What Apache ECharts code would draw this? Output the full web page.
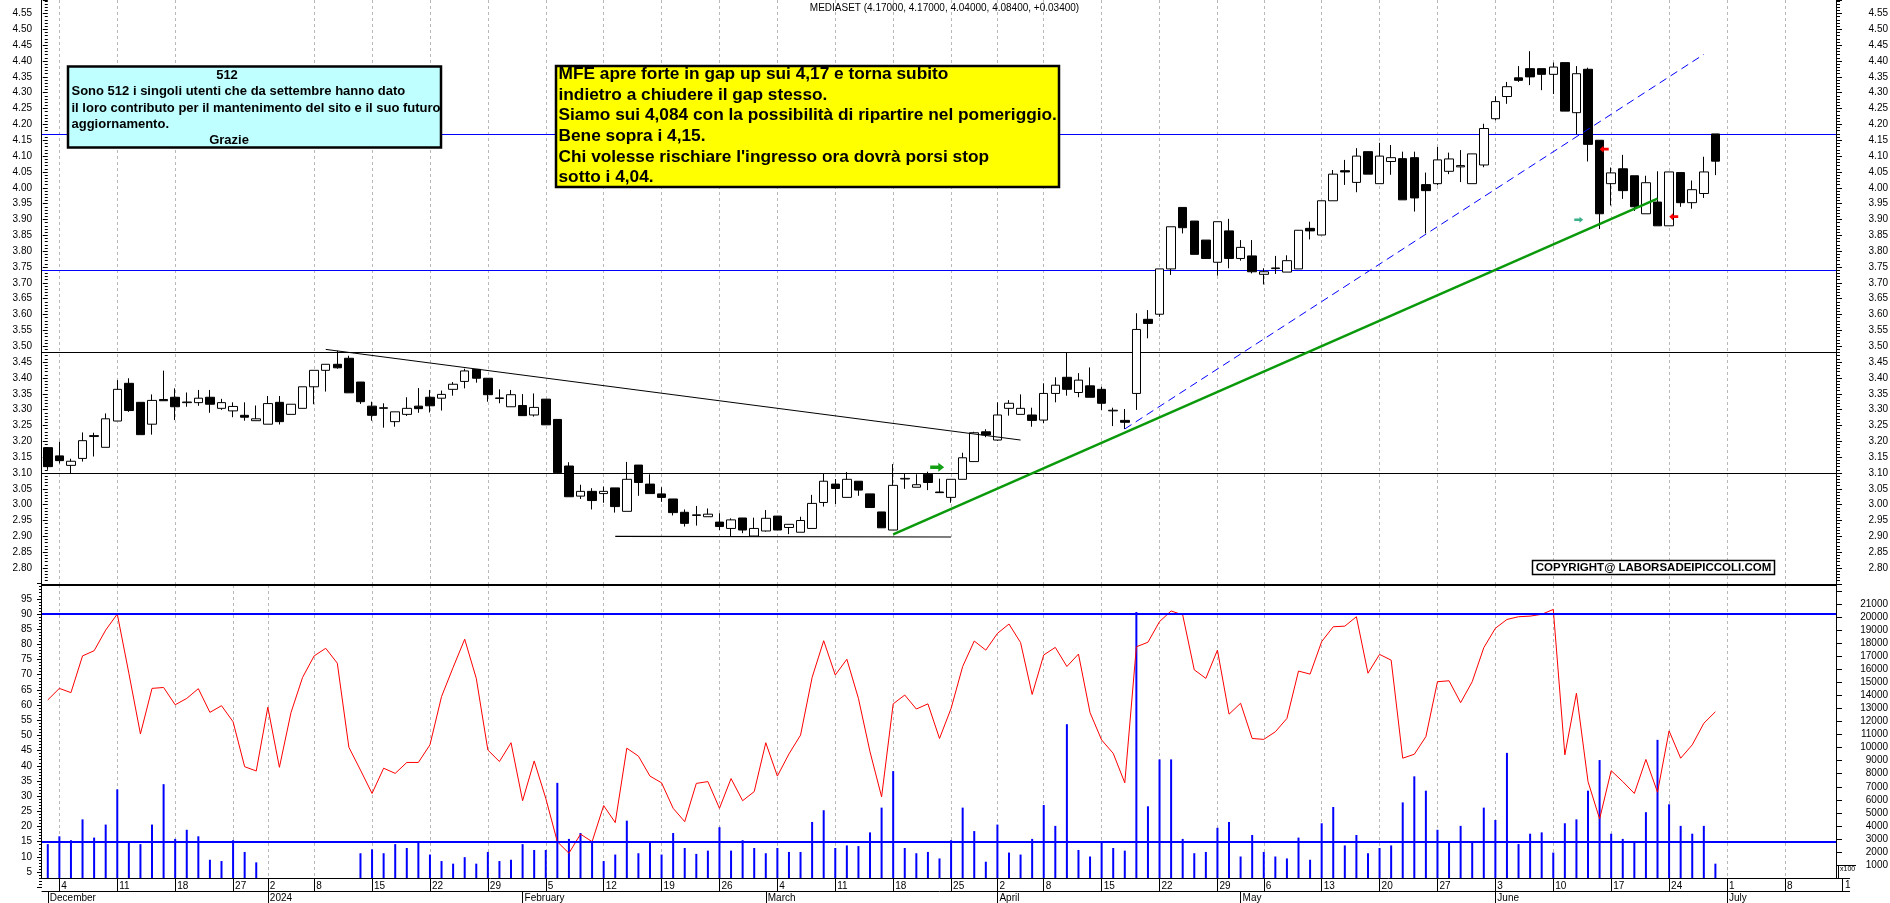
<!DOCTYPE html>
<html><head><meta charset="utf-8">
<script src="https://cdn.jsdelivr.net/npm/echarts@6/dist/echarts.min.js"></script>
<style>html,body{margin:0;padding:0;background:#fff}#c{width:1890px;height:903px}</style>
</head><body><div id="c"></div>
<script>
// ---------------- DATA ----------------
const dates = [
'2023-12-01','2023-12-04','2023-12-05','2023-12-06','2023-12-07','2023-12-08','2023-12-11','2023-12-12','2023-12-13','2023-12-14','2023-12-15',
'2023-12-18','2023-12-19','2023-12-20','2023-12-21','2023-12-22','2023-12-27','2023-12-28','2023-12-29',
'2024-01-02','2024-01-03','2024-01-04','2024-01-05','2024-01-08','2024-01-09','2024-01-10','2024-01-11','2024-01-12',
'2024-01-15','2024-01-16','2024-01-17','2024-01-18','2024-01-19','2024-01-22','2024-01-23','2024-01-24','2024-01-25','2024-01-26',
'2024-01-29','2024-01-30','2024-01-31','2024-02-01','2024-02-02','2024-02-05','2024-02-06','2024-02-07','2024-02-08','2024-02-09',
'2024-02-12','2024-02-13','2024-02-14','2024-02-15','2024-02-16','2024-02-19','2024-02-20','2024-02-21','2024-02-22','2024-02-23',
'2024-02-26','2024-02-27','2024-02-28','2024-02-29','2024-03-01','2024-03-04','2024-03-05','2024-03-06','2024-03-07','2024-03-08',
'2024-03-11','2024-03-12','2024-03-13','2024-03-14','2024-03-15','2024-03-18','2024-03-19','2024-03-20','2024-03-21','2024-03-22',
'2024-03-25','2024-03-26','2024-03-27','2024-03-28','2024-04-02','2024-04-03','2024-04-04','2024-04-05',
'2024-04-08','2024-04-09','2024-04-10','2024-04-11','2024-04-12','2024-04-15','2024-04-16','2024-04-17','2024-04-18','2024-04-19',
'2024-04-22','2024-04-23','2024-04-24','2024-04-25','2024-04-26','2024-04-29','2024-04-30','2024-05-02','2024-05-03',
'2024-05-06','2024-05-07','2024-05-08','2024-05-09','2024-05-10','2024-05-13','2024-05-14','2024-05-15','2024-05-16','2024-05-17',
'2024-05-20','2024-05-21','2024-05-22','2024-05-23','2024-05-24','2024-05-27','2024-05-28','2024-05-29','2024-05-30','2024-05-31',
'2024-06-03','2024-06-04','2024-06-05','2024-06-06','2024-06-07','2024-06-10','2024-06-11','2024-06-12','2024-06-13','2024-06-14',
'2024-06-17','2024-06-18','2024-06-19','2024-06-20','2024-06-21','2024-06-24','2024-06-25','2024-06-26','2024-06-27','2024-06-28',
'2024-07-01','2024-07-02','2024-07-03','2024-07-04','2024-07-05','2024-07-08','2024-07-09','2024-07-10','2024-07-11','2024-07-12'
];
const opens = [
3.18,3.154,3.124,3.146,3.215,3.181,3.264,3.383,3.323,3.254,
3.332,3.339,3.322,3.322,3.339,3.304,3.296,3.282,3.265,3.254,
3.323,3.285,3.304,3.372,3.424,3.443,3.462,3.387,3.311,3.304,
3.262,3.285,3.311,3.339,3.336,3.364,3.389,3.427,3.399,3.335,
3.309,3.313,3.283,3.333,3.269,3.122,3.027,3.042,3.035,3.053,
2.979,3.125,3.065,3.034,3.018,2.976,2.966,2.962,2.945,2.925,
2.958,2.901,2.917,2.964,2.928,2.913,2.925,3.007,3.065,3.023,
3.074,3.034,2.977,2.920,3.081,3.055,3.096,3.040,3.023,3.080,
3.136,3.230,3.204,3.304,3.285,3.283,3.267,3.351,3.402,3.354,
3.375,3.364,3.296,3.266,3.351,3.585,3.601,3.744,3.938,3.895,
3.835,3.765,3.864,3.777,3.785,3.727,3.745,3.734,3.744,3.872,
3.851,3.959,4.054,4.017,4.114,4.013,4.083,4.092,4.095,4.010,
4.013,4.052,4.066,4.013,4.072,4.218,4.288,4.347,4.376,4.376,
4.358,4.395,4.237,4.374,4.150,4.013,4.060,4.038,3.918,3.955,
3.880,4.048,3.953,3.982,4.170];
const closes = [
3.12,3.139,3.137,3.202,3.218,3.271,3.364,3.297,3.221,3.329,
3.328,3.309,3.324,3.336,3.317,3.322,3.310,3.276,3.271,3.319,
3.262,3.317,3.372,3.424,3.443,3.432,3.353,3.325,3.282,3.306,
3.293,3.304,3.303,3.312,3.348,3.380,3.422,3.399,3.347,3.337,
3.347,3.281,3.307,3.252,3.101,3.025,3.042,3.013,3.042,2.994,
3.080,3.070,3.035,3.023,2.975,2.941,2.968,2.970,2.931,2.952,
2.920,2.925,2.957,2.920,2.938,2.950,3.004,3.074,3.051,3.080,
3.046,2.991,2.927,3.061,3.083,3.063,3.070,3.038,3.080,3.148,
3.227,3.220,3.283,3.320,3.304,3.266,3.351,3.377,3.364,3.393,
3.339,3.320,3.298,3.260,3.553,3.572,3.744,3.877,3.874,3.790,
3.777,3.893,3.777,3.812,3.735,3.735,3.747,3.770,3.866,3.864,
3.959,4.043,4.050,4.100,4.043,4.100,4.095,3.962,3.968,3.991,
4.088,4.091,4.070,4.107,4.187,4.272,4.319,4.339,4.350,4.358,
4.381,4.242,4.360,4.137,3.918,4.047,3.991,3.940,4.016,3.880,
4.050,3.953,3.994,4.050,4.084];
const lows = [
3.11,3.13,3.099,3.136,3.152,3.181,3.264,3.293,3.221,3.221,
3.328,3.267,3.309,3.312,3.290,3.299,3.276,3.265,3.265,3.254,
3.253,3.285,3.304,3.317,3.357,3.429,3.353,3.318,3.265,3.243,
3.246,3.280,3.290,3.291,3.297,3.344,3.367,3.385,3.325,3.320,
3.309,3.281,3.278,3.252,3.099,3.025,3.018,2.985,3.006,2.975,
2.979,3.028,3.035,3.009,2.966,2.931,2.934,2.962,2.920,2.901,
2.910,2.901,2.915,2.920,2.907,2.913,2.925,2.994,3.002,3.023,
3.028,2.991,2.927,2.920,3.050,3.055,3.046,3.038,3.006,3.080,
3.136,3.213,3.201,3.281,3.285,3.246,3.257,3.323,3.344,3.339,
3.339,3.299,3.248,3.239,3.299,3.525,3.593,3.725,3.856,3.790,
3.777,3.723,3.746,3.770,3.730,3.695,3.728,3.734,3.744,3.837,
3.851,3.959,4.009,3.986,4.043,4.013,4.041,3.962,3.925,3.856,
4.008,4.043,4.018,4.013,4.065,4.213,4.265,4.334,4.324,4.308,
4.296,4.242,4.168,4.083,3.870,3.944,3.965,3.927,3.918,3.880,
3.880,3.940,3.934,3.968,4.040];
const highs = [
3.18,3.199,3.145,3.228,3.227,3.288,3.393,3.399,3.323,3.348,
3.423,3.367,3.354,3.362,3.362,3.334,3.323,3.323,3.313,3.343,
3.343,3.317,3.372,3.424,3.443,3.486,3.470,3.387,3.325,3.320,
3.293,3.339,3.368,3.362,3.360,3.387,3.429,3.427,3.399,3.364,
3.362,3.349,3.351,3.333,3.269,3.134,3.063,3.052,3.057,3.053,
3.135,3.125,3.096,3.055,3.018,2.985,2.996,2.988,2.973,2.957,
2.958,2.959,2.983,2.964,2.938,2.962,3.031,3.099,3.081,3.103,
3.074,3.034,2.977,3.128,3.099,3.096,3.104,3.082,3.080,3.164,
3.230,3.238,3.323,3.330,3.348,3.306,3.383,3.402,3.481,3.415,
3.433,3.372,3.306,3.302,3.604,3.614,3.744,3.877,3.938,3.895,
3.835,3.893,3.902,3.835,3.835,3.746,3.785,3.787,3.866,3.893,
3.959,4.056,4.088,4.125,4.114,4.142,4.135,4.114,4.114,4.048,
4.129,4.111,4.119,4.107,4.202,4.289,4.334,4.384,4.431,4.376,
4.395,4.395,4.384,4.379,4.150,4.064,4.104,4.038,4.038,4.052,
4.050,4.048,4.023,4.098,4.170];
const oscillator = [
61.7,65.5,64.1,76.2,77.9,84.7,90.0,70.5,50.5,65.5,
65.8,60.1,62.2,65.4,57.6,59.8,54.5,39.7,38.3,59.3,
39.5,57.5,69.1,76.2,78.7,73.8,46.1,38.6,30.9,39.2,
37.5,41.1,41.1,46.9,62.8,72.4,81.7,68.8,45.2,41.4,
47.6,28.5,41.6,29.3,15.0,11.2,17.5,15.0,26.9,21.3,
45.8,43.2,36.6,34.4,26.0,21.6,34.2,34.8,26.0,35.8,
28.5,31.5,47.6,36.6,43.9,50.1,69.1,81.2,69.9,75.1,
62.2,44.6,29.8,60.4,63.3,58.7,60.4,49.0,58.9,72.7,
81.1,78.1,83.6,86.7,80.6,63.5,76.5,79.0,72.7,76.8,
57.5,48.5,44.1,34.4,79.2,80.7,87.5,91.0,89.7,71.6,
68.8,78.1,57.0,60.6,49.0,48.7,51.2,55.6,71.2,70.2,
80.9,85.8,86.0,89.1,70.5,76.7,74.8,42.5,43.8,49.6,
67.7,68.0,60.8,67.7,78.9,85.3,88.2,89.1,89.3,89.9,
91.5,43.6,63.9,34.8,22.5,38.4,34.8,30.9,42.1,31.3,
51.5,42.5,46.9,54.0,57.8];
const volumes = [ // x100
2600,3200,2900,4500,3100,4100,6800,2800,2600,4100,
7200,3000,3700,3200,1400,1300,2900,2000,1200,0,
0,0,0,0,0,0,0,1900,2200,1900,
2600,2300,2800,1800,1300,1100,1600,1100,2000,1300,
1400,2600,2150,2150,7300,3000,3450,2800,1300,1800,
4400,1900,2800,1800,3450,2300,1850,2100,3900,2100,
2900,2300,1900,2300,2000,2000,4300,5200,2300,2500,
2450,3500,5400,8200,2300,1900,2000,1500,2900,5400,
3600,1250,4100,1950,1800,3000,5600,4000,11800,2150,
1650,2700,2300,2100,20400,5500,9100,9100,3000,1900,
2000,3850,4300,1650,3300,2000,1650,1500,3100,1400,
4200,5450,2500,3300,1900,2300,2500,5800,7800,6700,
3700,2800,4000,2800,5400,4450,9600,2600,3400,3500,
1950,4200,4500,6700,9050,3400,3000,2800,5050,10600,
5650,4000,3400,4000,1100];
const priceLevelsBlue = [4.169, 3.7365];
const priceLevelsBlack = [3.482, 3.097];
const oscLevels = [90, 15];
const trendDown = [[24, 3.490], [84, 3.204]];
const supportLine = [[49, 2.900], [78, 2.898]];
const greenTrend = [[73, 2.906], [139, 3.966]];
const blueDashTrend = [[93, 3.239], [143, 4.421]];
const arrowsGreen = [[76.8, 3.118]];
const arrowsTeal = [[132.2, 3.899]];
const arrowsRed = [[134.4, 4.122], [140.4, 3.909]];
const upperGridSkip = ['2023-12-27', '2024-01-02'];
const monthNames = ['January','February','March','April','May','June','July','August','September','October','November','December'];
const titleText = 'MEDIASET (4.17000, 4.17000, 4.04000, 4.08400, +0.03400)';
const cyanLines = ['Sono 512 i singoli utenti che da settembre hanno dato','il loro contributo per il mantenimento del sito e il suo futuro','aggiornamento.'];
const yellowLines = ['MFE apre forte in gap up sui 4,17 e torna subito','indietro a chiudere il gap stesso.','Siamo sui 4,084 con la possibilità di ripartire nel pomeriggio.','Bene sopra i 4,15.',"Chi volesse rischiare l'ingresso ora dovrà porsi stop",'sotto i 4,04.'];

// ---------------- HELPERS ----------------
const dow = s => new Date(s + 'T00:00:00Z').getUTCDay();
const weekStart = dates.map((d, i) => i > 0 && dow(d) <= dow(dates[i - 1]));
const weekStartUpper = dates.map((d, i) => weekStart[i] && upperGridSkip.indexOf(d) < 0);
const monthStart = dates.map((d, i) => i === 0 || d.slice(5, 7) !== dates[i - 1].slice(5, 7));
const candles = opens.map((o, i) => [o, closes[i], lows[i], highs[i]]);
const FONT = 'Liberation Sans, Arial, sans-serif';
const RIGHT_ARROW = 'path://M0,32 L58,32 L58,5 L100,50 L58,95 L58,68 L0,68 Z';
const LEFT_ARROW = 'path://M100,32 L42,32 L42,5 L0,50 L42,95 L42,68 L100,68 Z';

const gL = 42, gR = 53;
const chart = echarts.init(document.getElementById('c'), null, {renderer: 'canvas'});

const hLine = (v, color, w) => ({yAxis: v, lineStyle: {color: color, width: w, type: 'solid'}});
const lineSeries = (data, color, width, dash, z) => ({
  type: 'line', xAxisIndex: 1, yAxisIndex: 0, data: data, symbol: 'none', showSymbol: false,
  lineStyle: {color: color, width: width, type: dash || 'solid'}, z: z || 5, silent: true, animation: false
});
const gridAxis = (gridIndex, flags) => ({type: 'category', gridIndex: gridIndex, data: dates, boundaryGap: false,
  axisLine: {show: false}, axisTick: {show: false}, axisLabel: {show: false},
  splitLine: {show: true, interval: (i) => flags[i], lineStyle: {color: '#b8b8b8', width: 1, type: [3, 3]}}});

const graphics = [
  {type: 'line', shape: {x1: 41.5, y1: 0, x2: 41.5, y2: 878}, style: {stroke: '#000', lineWidth: 1}, z: 50},
  {type: 'line', shape: {x1: 1836.5, y1: 0, x2: 1836.5, y2: 878}, style: {stroke: '#000', lineWidth: 1}, z: 50},
  {type: 'line', shape: {x1: 42, y1: 585, x2: 1836, y2: 585}, style: {stroke: '#000', lineWidth: 2}, z: 50},
  {type: 'line', shape: {x1: 1836, y1: 878.5, x2: 1850, y2: 878.5}, style: {stroke: '#000', lineWidth: 1}, z: 50},
  {type: 'line', shape: {x1: 1836, y1: 891.5, x2: 1850, y2: 891.5}, style: {stroke: '#000', lineWidth: 1}, z: 50},
  {type: 'line', shape: {x1: 1842.5, y1: 878, x2: 1842.5, y2: 891}, style: {stroke: '#000', lineWidth: 1}, z: 50},
  {type: 'text', x: 1845, y: 880, style: {text: '1', font: '10px ' + FONT, fill: '#000'}, z: 50},
  {type: 'text', x: 1840, y: 866, style: {text: 'x100', font: '7px ' + FONT, fill: '#000'}, z: 50},
  {type: 'polyline', shape: {points: [[1838.5, 878], [1838.5, 865.5], [1856, 865.5]]}, style: {stroke: '#000', lineWidth: 1, fill: null}, z: 50},
  {type: 'text', x: 944.5, y: 8, style: {text: titleText, font: '10px ' + FONT, fill: '#000', align: 'center', verticalAlign: 'middle'}, z: 50},
  // cyan box
  {type: 'rect', shape: {x: 68, y: 66.5, width: 373, height: 81}, style: {fill: '#c0ffff', stroke: '#000', lineWidth: 2.5}, z: 100},
  {type: 'text', x: 227, y: 75, style: {text: '512', font: 'bold 13px ' + FONT, fill: '#000', align: 'center', verticalAlign: 'middle'}, z: 101},
  {type: 'text', x: 229, y: 140.5, style: {text: 'Grazie', font: 'bold 13px ' + FONT, fill: '#000', align: 'center', verticalAlign: 'middle'}, z: 101},
  // yellow box
  {type: 'rect', shape: {x: 556, y: 66, width: 503, height: 121}, style: {fill: '#ffff00', stroke: '#000', lineWidth: 2.5}, z: 100},
  // copyright
  {type: 'rect', shape: {x: 1532.5, y: 560.5, width: 242, height: 14}, style: {fill: '#fff', stroke: '#000', lineWidth: 1.5}, z: 100},
  {type: 'text', x: 1653.5, y: 568, style: {text: 'COPYRIGHT@ LABORSADEIPICCOLI.COM', font: 'bold 11.5px ' + FONT, fill: '#000', align: 'center', verticalAlign: 'middle'}, z: 101}
];
cyanLines.forEach((t, k) => graphics.push({type: 'text', x: 71.5, y: [91.5, 108, 124.5][k], style: {text: t, font: 'bold 13px ' + FONT, fill: '#000', verticalAlign: 'middle'}, z: 101}));
yellowLines.forEach((t, k) => graphics.push({type: 'text', x: 558.5, y: 74.5 + k * 20.6, style: {text: t, font: 'bold 17.3px ' + FONT, fill: '#000', verticalAlign: 'middle'}, z: 101}));

const option = {
  animation: false,
  backgroundColor: '#fff',
  textStyle: {fontFamily: FONT},
  grid: [
    {left: gL, right: gR, top: 0, height: 583.9, outerBoundsMode: 'none', containLabel: false},
    {left: gL, right: gR, top: 583.64, height: 303.6, outerBoundsMode: 'none', containLabel: false},
    {left: gL, right: gR, top: 591.27, height: 286.73, outerBoundsMode: 'none', containLabel: false},
    {left: gL + 5.79, right: gR + 5.79, top: 0, height: 585, outerBoundsMode: 'none', containLabel: false},
    {left: gL + 5.79, right: gR + 5.79, top: 585, height: 293, outerBoundsMode: 'none', containLabel: false}
  ],
  xAxis: [
    {type: 'category', gridIndex: 0, data: dates, boundaryGap: true, show: false},
    {type: 'value', gridIndex: 0, min: -0.5, max: 154.5, show: false},
    {type: 'category', gridIndex: 1, data: dates, boundaryGap: true, show: false},
    {type: 'category', gridIndex: 2, data: dates, boundaryGap: true, position: 'bottom',
      axisLine: {show: true, lineStyle: {color: '#000', width: 1}},
      axisTick: {show: true, alignWithLabel: true, length: 13, interval: (i) => weekStart[i], lineStyle: {color: '#000'}},
      axisLabel: {interval: (i) => weekStart[i], formatter: (v) => String(Number(v.slice(8))), align: 'left', margin: 3,
        padding: [0, 0, 0, 2], fontSize: 10, color: '#000', fontFamily: FONT},
      splitLine: {show: false}},
    {type: 'category', gridIndex: 2, data: dates, boundaryGap: true, position: 'bottom', offset: 13,
      axisLine: {show: true, lineStyle: {color: '#000', width: 1}},
      axisTick: {show: true, alignWithLabel: true, length: 12, interval: (i) => monthStart[i], lineStyle: {color: '#000'}},
      axisLabel: {interval: (i) => monthStart[i], formatter: (v) => (v.slice(5, 7) === '01' ? v.slice(0, 4) : monthNames[Number(v.slice(5, 7)) - 1]),
        align: 'left', margin: 2, padding: [0, 0, 0, 2], fontSize: 10, color: '#000', fontFamily: FONT},
      splitLine: {show: false}},
    gridAxis(3, weekStartUpper),
    gridAxis(4, weekStart)
  ],
  yAxis: [
    {type: 'value', gridIndex: 0, position: 'left', min: 2.75, max: 4.5926, interval: 0.05, scale: true,
      axisLine: {show: false}, splitLine: {show: false},
      axisTick: {show: true, length: 5, lineStyle: {color: '#000'}},
      minorTick: {show: true, splitNumber: 5, length: 3, lineStyle: {color: '#000'}},
      axisLabel: {formatter: (v) => (v > 2.79 && v < 4.56 ? v.toFixed(2) : ''), margin: 10, fontSize: 10, color: '#000', fontFamily: FONT}},
    {type: 'value', gridIndex: 0, position: 'right', min: 2.75, max: 4.5926, interval: 0.05, scale: true,
      axisLine: {show: false}, splitLine: {show: false},
      axisTick: {show: true, length: 5, lineStyle: {color: '#000'}},
      minorTick: {show: true, splitNumber: 5, length: 3, lineStyle: {color: '#000'}},
      axisLabel: {formatter: (v) => (v > 2.79 && v < 4.56 ? v.toFixed(2) : ''), align: 'right', margin: 51, fontSize: 10, color: '#000', fontFamily: FONT}},
    {type: 'value', gridIndex: 1, position: 'left', min: 0, max: 100, interval: 5,
      axisLine: {show: false}, splitLine: {show: false},
      axisTick: {show: true, length: 5, lineStyle: {color: '#000'}},
      minorTick: {show: true, splitNumber: 5, length: 3, lineStyle: {color: '#000'}},
      axisLabel: {formatter: (v) => (v >= 5 && v <= 95 ? String(v) : ''), margin: 10, fontSize: 10, color: '#000', fontFamily: FONT}},
    {type: 'value', gridIndex: 2, position: 'right', min: 0, max: 22000, interval: 1000,
      axisLine: {show: false}, splitLine: {show: false},
      axisTick: {show: true, length: 5, lineStyle: {color: '#000'}},
      axisLabel: {formatter: (v) => (v >= 1000 && v <= 21000 ? String(v) : ''), align: 'right', margin: 51, fontSize: 10, color: '#000', fontFamily: FONT}},
    {type: 'value', gridIndex: 3, show: false},
    {type: 'value', gridIndex: 4, show: false}
  ],
  series: [
    {type: 'bar', xAxisIndex: 3, yAxisIndex: 3, data: volumes, barWidth: 2, itemStyle: {color: '#0000ff'}, z: 2, silent: true},
    {type: 'line', xAxisIndex: 2, yAxisIndex: 2, data: oscillator, symbol: 'none', showSymbol: false,
      lineStyle: {color: '#ff0000', width: 1}, z: 3, silent: true,
      markLine: {silent: true, symbol: ['none', 'none'], label: {show: false}, z: 4,
        data: oscLevels.map(v => hLine(v, '#0000ff', 2))}},
    {type: 'candlestick', xAxisIndex: 0, yAxisIndex: 0, data: candles, barWidth: 9, silent: true, z: 3,
      itemStyle: {color: '#ffffff', color0: '#000000', borderColor: '#000000', borderColor0: '#000000', borderColorDoji: '#000000', borderWidth: 1},
      markLine: {silent: true, symbol: ['none', 'none'], label: {show: false}, z: 2,
        data: priceLevelsBlue.map(v => hLine(v, '#0000ff', 1.2)).concat(priceLevelsBlack.map(v => hLine(v, '#000000', 1.2)))}},
    lineSeries(trendDown, '#000000', 1, 'solid', 5),
    lineSeries(supportLine, '#000000', 1.2, 'solid', 5),
    lineSeries(greenTrend, '#0a990a', 2.5, 'solid', 6),
    lineSeries(blueDashTrend, '#0000ff', 1, [8, 5], 6),
    {type: 'scatter', xAxisIndex: 1, yAxisIndex: 0, data: arrowsGreen, symbol: RIGHT_ARROW, symbolSize: [14, 9],
      itemStyle: {color: '#14a014', opacity: 1}, z: 8, silent: true},
    {type: 'scatter', xAxisIndex: 1, yAxisIndex: 0, data: arrowsTeal, symbol: RIGHT_ARROW, symbolSize: [9, 6],
      itemStyle: {color: '#3cb08a', opacity: 1}, z: 8, silent: true},
    {type: 'scatter', xAxisIndex: 1, yAxisIndex: 0, data: arrowsRed, symbol: LEFT_ARROW, symbolSize: [9, 7],
      itemStyle: {color: '#ff0000', opacity: 1}, z: 8, silent: true}
  ],
  graphic: graphics
};
chart.setOption(option);
</script>
</body></html>
